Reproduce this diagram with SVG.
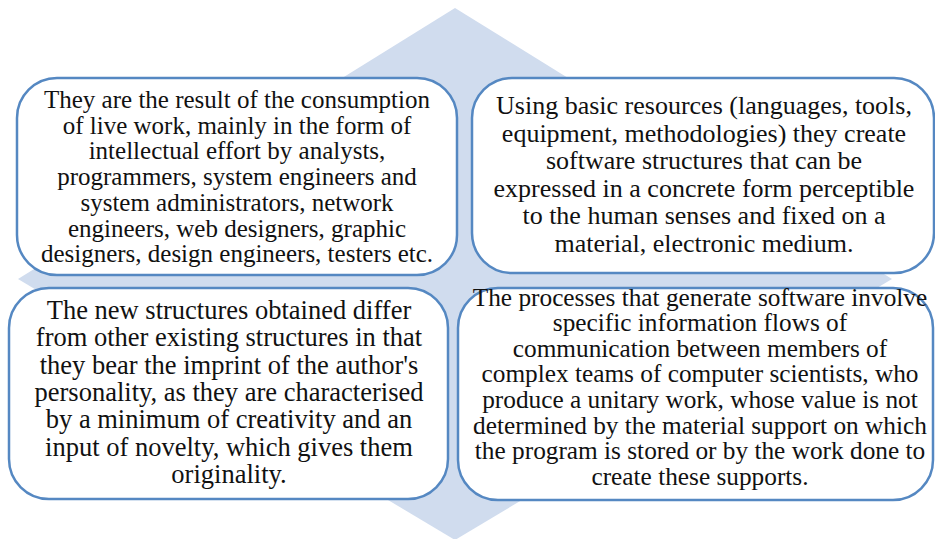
<svg xmlns="http://www.w3.org/2000/svg" width="935" height="539" viewBox="0 0 935 539">
<style>
.bg{fill:#d0dcee;stroke:none}
.box{fill:#ffffff;stroke:#5588c2;stroke-width:2.5}
.t{fill:#111111;text-anchor:middle}
</style>
<rect width="935" height="539" fill="#ffffff"/>
<polygon class="bg" points="455,8 892,279 455,540 18,279"/>
<g id="connectors"></g>
<g font-family="'Liberation Serif', 'Times New Roman', serif">
<g id="node-tl" font-size="25px">
<rect class="box" x="17" y="78" width="440" height="197" rx="40" ry="40"/>
<text class="t" x="237" y="108">They are the result of the consumption</text>
<text class="t" x="237" y="133.7">of live work, mainly in the form of</text>
<text class="t" x="237" y="159.4">intellectual effort by analysts,</text>
<text class="t" x="237" y="185.1">programmers, system engineers and</text>
<text class="t" x="237" y="210.8">system administrators, network</text>
<text class="t" x="237" y="236.5">engineers, web designers, graphic</text>
<text class="t" x="237" y="262.2">designers, design engineers, testers etc.</text>
</g>
<g id="node-tr" font-size="26px">
<rect class="box" x="472" y="78" width="462" height="195" rx="40" ry="40"/>
<text class="t" x="704" y="114">Using basic resources (languages, tools,</text>
<text class="t" x="704" y="141.6">equipment, methodologies) they create</text>
<text class="t" x="704" y="169.2">software structures that can be</text>
<text class="t" x="704" y="196.8">expressed in a concrete form perceptible</text>
<text class="t" x="704" y="224.4">to the human senses and fixed on a</text>
<text class="t" x="704" y="252">material, electronic medium.</text>
</g>
<g id="node-bl" font-size="26.5px">
<rect class="box" x="9" y="288" width="439" height="211" rx="40" ry="40"/>
<text class="t" x="229" y="319">The new structures obtained differ</text>
<text class="t" x="229" y="346.3">from other existing structures in that</text>
<text class="t" x="229" y="373.6">they bear the imprint of the author's</text>
<text class="t" x="229" y="400.9">personality, as they are characterised</text>
<text class="t" x="229" y="428.2">by a minimum of creativity and an</text>
<text class="t" x="229" y="455.5">input of novelty, which gives them</text>
<text class="t" x="229" y="482.8">originality.</text>
</g>
<g id="node-br" font-size="25.3px">
<rect class="box" x="458" y="288" width="475" height="212" rx="40" ry="40"/>
<text class="t" x="700" y="305.5">The processes that generate software involve</text>
<text class="t" x="700" y="331.1">specific information flows of</text>
<text class="t" x="700" y="356.7">communication between members of</text>
<text class="t" x="700" y="382.3">complex teams of computer scientists, who</text>
<text class="t" x="700" y="407.9">produce a unitary work, whose value is not</text>
<text class="t" x="700" y="433.5">determined by the material support on which</text>
<text class="t" x="700" y="459.1">the program is stored or by the work done to</text>
<text class="t" x="700" y="484.7">create these supports.</text>
</g>
</g>
</svg>
